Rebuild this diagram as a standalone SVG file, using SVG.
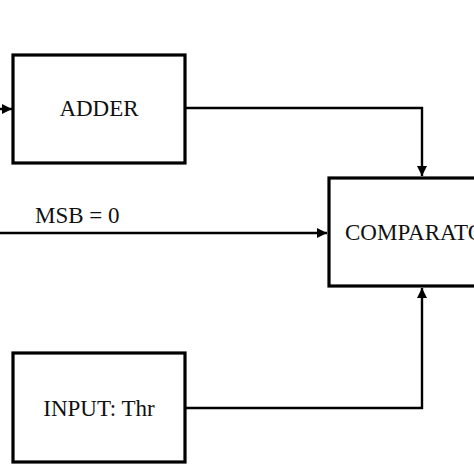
<svg xmlns="http://www.w3.org/2000/svg" width="474" height="474" viewBox="0 0 474 474">
<style>
.box{fill:#fff;stroke:#000;stroke-width:3.2}
.wire{fill:none;stroke:#000;stroke-width:2.4}
text{font-family:"Liberation Serif","Times New Roman",serif;font-size:23px;fill:#111}
</style>
<defs>
<marker id="arr" viewBox="0 0 10 10" refX="10" refY="5" markerWidth="4.2" markerHeight="4.2" orient="auto" markerUnits="strokeWidth">
<path d="M0,0 L10,5 L0,10 z" fill="#000"/>
</marker>
</defs>
<rect width="474" height="474" fill="#fff"/>
<g id="connectors">
<path class="wire" d="M0,109 H12" marker-end="url(#arr)"/>
<path class="wire" d="M185,108 H422 V176" marker-end="url(#arr)"/>
<path class="wire" d="M0,233 H327" marker-end="url(#arr)"/>
<path class="wire" d="M185,408 H422 V288" marker-end="url(#arr)"/>
</g>
<g id="adder">
<rect class="box" x="13" y="55" width="172" height="108"/>
<text x="99" y="116" text-anchor="middle">ADDER</text>
</g>
<g id="comparator">
<rect class="box" x="329" y="178" width="160" height="108"/>
<text x="345" y="240">COMPARATOR</text>
</g>
<g id="input-thr">
<rect class="box" x="13" y="353" width="172" height="109"/>
<text x="99" y="416" text-anchor="middle">INPUT: Thr</text>
</g>
<g id="msb-label">
<text x="35" y="223">MSB = 0</text>
</g>
</svg>
